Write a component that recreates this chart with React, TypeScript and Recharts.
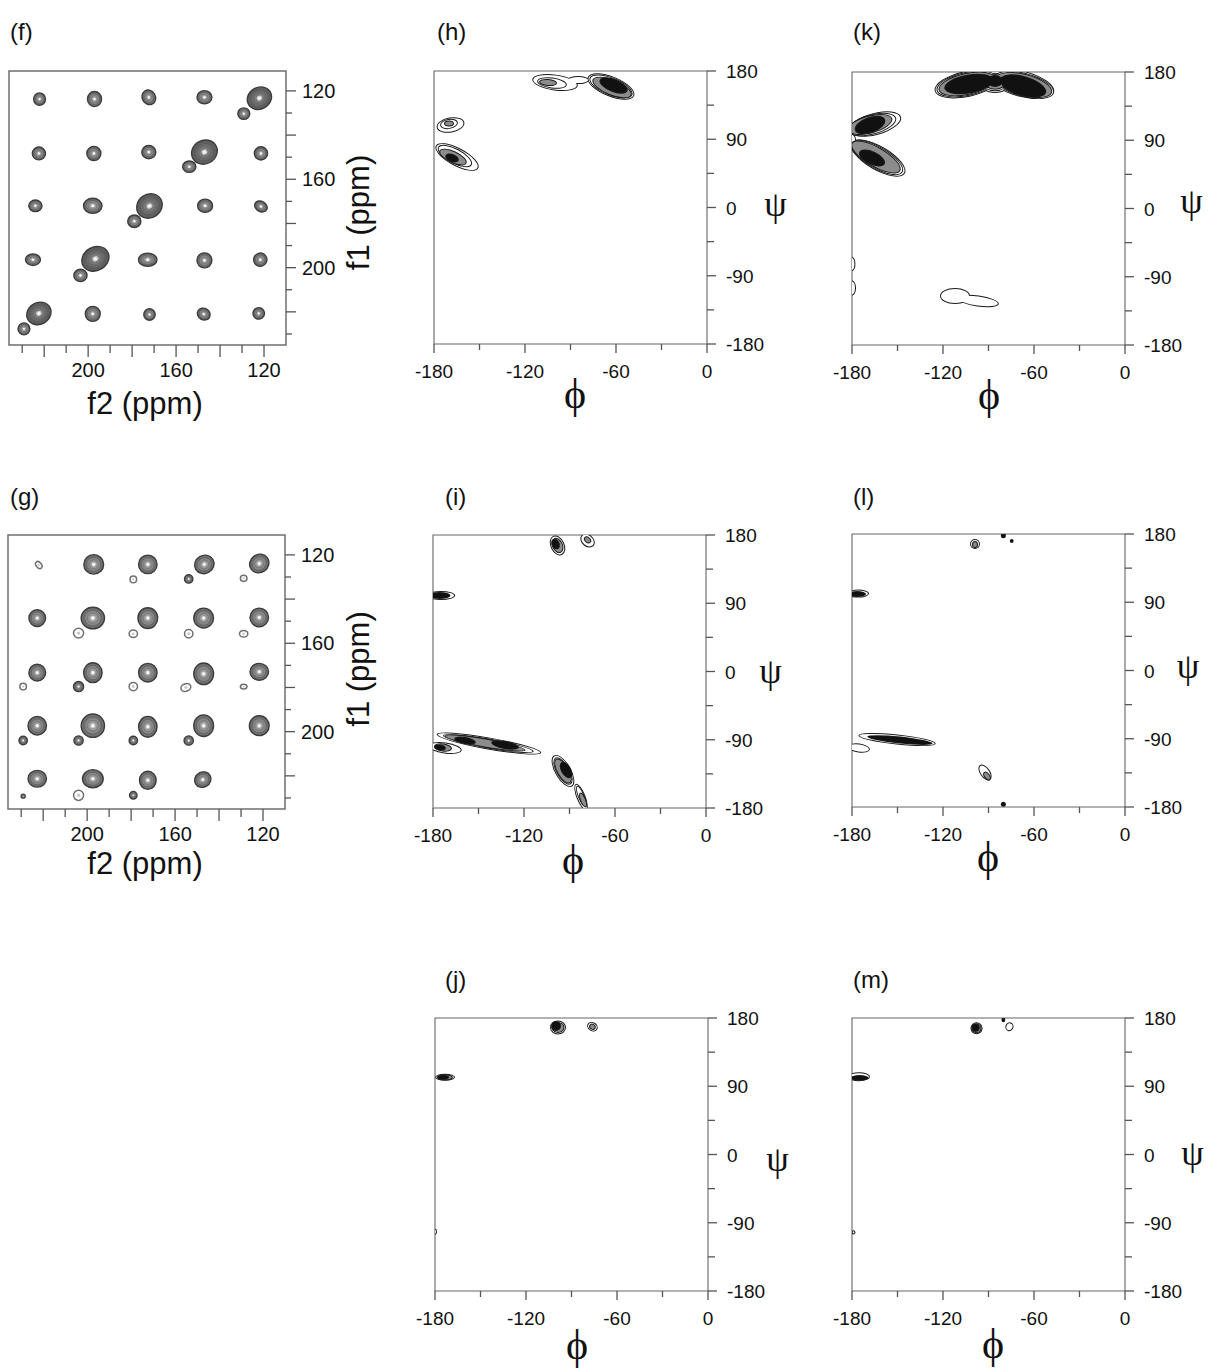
import React from "react";
import { ScatterChart, Scatter, XAxis, YAxis, ReferenceArea } from "recharts";

const SANS = '"Liberation Sans", Arial, sans-serif';
const SERIF = '"Liberation Serif", "Times New Roman", serif';

// ---- axis ticks ----
const ppmTicks = [120, 130, 140, 150, 160, 170, 180, 190, 200, 210, 220, 230];
const ppmLabels = [120, 160, 200];
const phiTicks = [-180, -150, -120, -90, -60, -30, 0];
const phiLabels = [-180, -120, -60, 0];
const psiTicks = [-180, -135, -90, -45, 0, 45, 90, 135, 180];
const psiLabels = [-180, -90, 0, 90, 180];

// ---- 2D spectra: peak centre (f2, f1 in ppm), half widths (ppm), tilt, kind ----
// kind: p = normal cross peak, b = diagonal peak, r = weak hollow peak
const peaksF = [
  { f2: 222.1, f1: 123.7, rx: 2.7, ry: 2.8, rot: 0, k: "p" },
  { f2: 197.1, f1: 123.7, rx: 3.2, ry: 3.4, rot: 0, k: "p" },
  { f2: 172.4, f1: 122.9, rx: 3.0, ry: 3.4, rot: -30, k: "p" },
  { f2: 147.1, f1: 122.9, rx: 3.4, ry: 3.0, rot: 0, k: "p" },
  { f2: 122.1, f1: 123.3, rx: 5.7, ry: 4.9, rot: -30, k: "b" },
  { f2: 129.2, f1: 130.3, rx: 2.7, ry: 2.6, rot: 0, k: "p" },
  { f2: 222.4, f1: 148.3, rx: 3.0, ry: 2.9, rot: 0, k: "p" },
  { f2: 197.4, f1: 148.3, rx: 3.2, ry: 3.2, rot: 0, k: "p" },
  { f2: 172.4, f1: 147.7, rx: 3.2, ry: 3.0, rot: 0, k: "p" },
  { f2: 147.1, f1: 147.7, rx: 6.0, ry: 5.3, rot: -30, k: "b" },
  { f2: 154.0, f1: 154.3, rx: 3.0, ry: 2.6, rot: 0, k: "p" },
  { f2: 121.4, f1: 148.3, rx: 3.0, ry: 3.0, rot: 0, k: "p" },
  { f2: 224.0, f1: 172.0, rx: 3.0, ry: 2.6, rot: 0, k: "p" },
  { f2: 197.9, f1: 172.0, rx: 4.2, ry: 3.4, rot: 0, k: "p" },
  { f2: 172.1, f1: 172.1, rx: 6.0, ry: 5.3, rot: -35, k: "b" },
  { f2: 179.0, f1: 179.0, rx: 3.0, ry: 2.8, rot: 0, k: "p" },
  { f2: 146.8, f1: 172.0, rx: 3.4, ry: 3.0, rot: 0, k: "p" },
  { f2: 121.4, f1: 172.3, rx: 3.0, ry: 2.3, rot: 30, k: "p" },
  { f2: 225.1, f1: 196.4, rx: 3.4, ry: 2.6, rot: 0, k: "p" },
  { f2: 196.7, f1: 196.0, rx: 6.4, ry: 5.3, rot: -30, k: "b" },
  { f2: 203.5, f1: 203.5, rx: 3.0, ry: 2.8, rot: 0, k: "p" },
  { f2: 172.9, f1: 196.4, rx: 4.2, ry: 3.0, rot: 0, k: "p" },
  { f2: 147.1, f1: 196.7, rx: 3.4, ry: 3.4, rot: 0, k: "p" },
  { f2: 121.7, f1: 196.4, rx: 3.0, ry: 3.0, rot: 30, k: "p" },
  { f2: 222.4, f1: 220.7, rx: 5.7, ry: 4.9, rot: -30, k: "b" },
  { f2: 229.2, f1: 227.7, rx: 2.7, ry: 2.7, rot: 0, k: "p" },
  { f2: 197.9, f1: 220.9, rx: 3.4, ry: 3.4, rot: 0, k: "p" },
  { f2: 172.1, f1: 221.2, rx: 2.6, ry: 2.6, rot: 0, k: "p" },
  { f2: 147.4, f1: 221.0, rx: 3.0, ry: 2.6, rot: 30, k: "p" },
  { f2: 122.4, f1: 220.7, rx: 2.6, ry: 2.6, rot: 30, k: "p" },
];

const peaksG = [
  { f2: 222.0, f1: 124.6, rx: 1.2, ry: 1.8, rot: -40, k: "r" },
  { f2: 197.0, f1: 124.3, rx: 4.5, ry: 4.4, rot: 0, k: "p" },
  { f2: 172.4, f1: 124.3, rx: 4.2, ry: 4.2, rot: 0, k: "p" },
  { f2: 146.7, f1: 124.3, rx: 4.5, ry: 4.1, rot: -30, k: "p" },
  { f2: 121.7, f1: 123.9, rx: 4.5, ry: 4.1, rot: -35, k: "p" },
  { f2: 179.0, f1: 131.1, rx: 1.5, ry: 1.5, rot: 0, k: "r" },
  { f2: 153.8, f1: 130.9, rx: 1.9, ry: 1.9, rot: 0, k: "p" },
  { f2: 128.8, f1: 130.6, rx: 1.5, ry: 1.4, rot: 0, k: "r" },
  { f2: 222.7, f1: 148.6, rx: 3.8, ry: 3.8, rot: 0, k: "p" },
  { f2: 197.4, f1: 148.6, rx: 5.3, ry: 4.9, rot: 0, k: "p" },
  { f2: 203.9, f1: 155.4, rx: 2.3, ry: 2.2, rot: 0, k: "r" },
  { f2: 172.4, f1: 148.6, rx: 4.5, ry: 4.7, rot: 0, k: "p" },
  { f2: 179.0, f1: 155.7, rx: 1.9, ry: 1.7, rot: 0, k: "r" },
  { f2: 147.0, f1: 148.6, rx: 4.5, ry: 4.5, rot: 0, k: "p" },
  { f2: 153.8, f1: 155.7, rx: 1.9, ry: 1.9, rot: 0, k: "r" },
  { f2: 121.7, f1: 148.3, rx: 4.2, ry: 4.2, rot: 0, k: "p" },
  { f2: 128.8, f1: 155.7, rx: 1.9, ry: 1.5, rot: 0, k: "r" },
  { f2: 222.7, f1: 173.3, rx: 3.8, ry: 3.8, rot: 0, k: "p" },
  { f2: 229.1, f1: 179.6, rx: 1.5, ry: 1.5, rot: 0, k: "r" },
  { f2: 197.4, f1: 173.3, rx: 4.2, ry: 4.5, rot: 0, k: "p" },
  { f2: 203.9, f1: 179.6, rx: 2.3, ry: 2.3, rot: 0, k: "p" },
  { f2: 172.4, f1: 173.3, rx: 4.2, ry: 4.2, rot: 0, k: "p" },
  { f2: 179.0, f1: 179.6, rx: 1.9, ry: 1.9, rot: 0, k: "r" },
  { f2: 147.0, f1: 173.8, rx: 4.5, ry: 4.9, rot: 0, k: "p" },
  { f2: 155.1, f1: 180.0, rx: 2.3, ry: 1.7, rot: -20, k: "r" },
  { f2: 121.7, f1: 172.9, rx: 4.2, ry: 3.8, rot: 0, k: "p" },
  { f2: 128.8, f1: 179.6, rx: 1.5, ry: 1.1, rot: 0, k: "r" },
  { f2: 222.7, f1: 197.3, rx: 4.2, ry: 4.2, rot: 0, k: "p" },
  { f2: 229.1, f1: 204.0, rx: 1.9, ry: 1.9, rot: 0, k: "p" },
  { f2: 197.4, f1: 197.3, rx: 5.3, ry: 5.3, rot: 0, k: "p" },
  { f2: 203.9, f1: 204.0, rx: 2.1, ry: 2.1, rot: 0, k: "p" },
  { f2: 172.4, f1: 197.8, rx: 4.2, ry: 4.7, rot: 0, k: "p" },
  { f2: 179.0, f1: 204.0, rx: 1.9, ry: 1.9, rot: 0, k: "p" },
  { f2: 147.0, f1: 197.3, rx: 4.5, ry: 4.9, rot: 0, k: "p" },
  { f2: 153.8, f1: 204.0, rx: 2.1, ry: 2.1, rot: 0, k: "p" },
  { f2: 121.7, f1: 197.3, rx: 4.5, ry: 4.5, rot: 0, k: "p" },
  { f2: 222.7, f1: 221.3, rx: 4.2, ry: 3.8, rot: 0, k: "p" },
  { f2: 229.1, f1: 229.2, rx: 0.9, ry: 0.9, rot: 0, k: "p" },
  { f2: 197.4, f1: 221.3, rx: 4.7, ry: 4.1, rot: 0, k: "p" },
  { f2: 203.9, f1: 228.8, rx: 2.3, ry: 2.3, rot: 0, k: "r" },
  { f2: 172.4, f1: 222.0, rx: 3.8, ry: 4.1, rot: 0, k: "p" },
  { f2: 179.0, f1: 228.8, rx: 1.7, ry: 1.7, rot: 0, k: "p" },
  { f2: 147.4, f1: 221.7, rx: 3.8, ry: 3.4, rot: -30, k: "p" },
];

// ---- phi/psi maps: contour patches (deg), lv = contour level 0 (outer) .. 3 (top) ----
const blobsH = [
  { phi: -63.3, psi: 159.6, a: 15.8, b: 11.9, rot: 22, lv: 0 },
  { phi: -100.2, psi: 164.8, a: 14.5, b: 9.2, rot: 8, lv: 0 },
  { phi: -85, psi: 168.1, a: 6.6, b: 4, rot: 0, lv: 0 },
  { phi: -169.1, psi: 108.8, a: 8.6, b: 8.6, rot: -10, lv: 0 },
  { phi: -164.8, psi: 66.6, a: 15.2, b: 10.6, rot: 28, lv: 0 },
  { phi: -63.3, psi: 159.6, a: 14.5, b: 10.5, rot: 22, lv: 1 },
  { phi: -102.2, psi: 164.2, a: 9.2, b: 5.9, rot: 8, lv: 1 },
  { phi: -170.1, psi: 110.2, a: 5.3, b: 5.3, rot: -10, lv: 1 },
  { phi: -166.2, psi: 67.9, a: 11.9, b: 8.6, rot: 28, lv: 1 },
  { phi: -62.6, psi: 158.3, a: 13.2, b: 9.2, rot: 22, lv: 2 },
  { phi: -104.8, psi: 164.8, a: 5.3, b: 3.3, rot: 5, lv: 2 },
  { phi: -170.1, psi: 110.8, a: 2.6, b: 2.6, rot: 0, lv: 2 },
  { phi: -167.5, psi: 66.6, a: 9.2, b: 6.6, rot: 25, lv: 2 },
  { phi: -61.6, psi: 160.9, a: 9.2, b: 7.3, rot: 22, lv: 3 },
  { phi: -168.1, psi: 65.3, a: 4, b: 4, rot: 20, lv: 3 },
];

const blobsK = [
  { phi: -104.2, psi: 164.2, a: 21.1, b: 15.8, rot: -12, lv: 0 },
  { phi: -67.9, psi: 164.2, a: 21.1, b: 15.8, rot: 14, lv: 0 },
  { phi: -85.7, psi: 166.8, a: 9.9, b: 13.2, rot: 0, lv: 0 },
  { phi: -164.8, psi: 111.4, a: 17.1, b: 13.2, rot: -15, lv: 0 },
  { phi: -162.9, psi: 66.6, a: 19.8, b: 14.5, rot: 30, lv: 0 },
  { phi: -180, psi: 90.3, a: 2, b: 6.6, rot: 0, lv: 0 },
  { phi: -112.1, psi: -115.4, a: 9.2, b: 9.2, rot: 0, lv: 0 },
  { phi: -96.9, psi: -122, a: 13.2, b: 5.9, rot: 8, lv: 0 },
  { phi: -180, psi: -73.2, a: 1.6, b: 7.9, rot: 0, lv: 0 },
  { phi: -180, psi: -104.8, a: 2, b: 8.6, rot: 0, lv: 0 },
  { phi: -104.2, psi: 164.2, a: 19.8, b: 14.5, rot: -12, lv: 1 },
  { phi: -66.6, psi: 162.9, a: 19.8, b: 14.5, rot: 15, lv: 1 },
  { phi: -85.7, psi: 166.8, a: 8, b: 11, rot: 0, lv: 1 },
  { phi: -166.8, psi: 110.8, a: 15.8, b: 11.9, rot: -15, lv: 1 },
  { phi: -163.5, psi: 67.3, a: 18.8, b: 13.2, rot: 30, lv: 1 },
  { phi: -104.2, psi: 164.2, a: 18.5, b: 13.2, rot: -12, lv: 2 },
  { phi: -66.6, psi: 162.9, a: 18.5, b: 13.2, rot: 15, lv: 2 },
  { phi: -85.7, psi: 167, a: 6.6, b: 9.2, rot: 0, lv: 2 },
  { phi: -168.1, psi: 110.8, a: 14.5, b: 10.5, rot: -15, lv: 2 },
  { phi: -164.2, psi: 67.9, a: 17.8, b: 11.9, rot: 30, lv: 2 },
  { phi: -102.9, psi: 164.2, a: 15.8, b: 11.2, rot: -10, lv: 3 },
  { phi: -67.3, psi: 161.5, a: 15.2, b: 11.9, rot: 16, lv: 3 },
  { phi: -85.7, psi: 168, a: 4.5, b: 6.6, rot: 0, lv: 3 },
  { phi: -168.1, psi: 110.1, a: 9.9, b: 9.2, rot: -20, lv: 3 },
  { phi: -166.8, psi: 66.6, a: 8.6, b: 7.3, rot: 25, lv: 3 },
];

const blobsI = [
  { phi: -97.9, psi: 166.2, a: 6.3, b: 7.9, rot: 65, lv: 0 },
  { phi: -78.1, psi: 172.7, a: 4.6, b: 6.6, rot: 40, lv: 0 },
  { phi: -174.7, psi: 100.2, a: 8.6, b: 4.6, rot: 0, lv: 0 },
  { phi: -143.1, psi: -95, a: 34.3, b: 6.6, rot: 10, lv: 0 },
  { phi: -172.1, psi: -100.9, a: 10.5, b: 5.9, rot: 8, lv: 0 },
  { phi: -94.3, psi: -131.2, a: 11.2, b: 9.2, rot: 60, lv: 0 },
  { phi: -82.4, psi: -165.5, a: 8.6, b: 4.6, rot: 68, lv: 0 },
  { phi: -143.5, psi: -95, a: 29.7, b: 5.3, rot: 10, lv: 1 },
  { phi: -94.3, psi: -131.2, a: 9.5, b: 7.5, rot: 60, lv: 1 },
  { phi: -82.4, psi: -164, a: 6.5, b: 3, rot: 68, lv: 1 },
  { phi: -97.9, psi: 166.2, a: 4.6, b: 5.9, rot: 65, lv: 2 },
  { phi: -78.1, psi: 173.5, a: 2, b: 2.6, rot: 40, lv: 2 },
  { phi: -145.7, psi: -94.3, a: 26.4, b: 4.6, rot: 10, lv: 2 },
  { phi: -173.4, psi: -100.2, a: 5.3, b: 4, rot: 8, lv: 2 },
  { phi: -94.3, psi: -131.2, a: 8.6, b: 6.6, rot: 60, lv: 2 },
  { phi: -81.1, psi: -169.5, a: 4.6, b: 2.6, rot: 68, lv: 2 },
  { phi: -99.2, psi: 168.1, a: 3, b: 4, rot: 65, lv: 3 },
  { phi: -175.7, psi: 100.2, a: 6.6, b: 3.3, rot: 0, lv: 3 },
  { phi: -158.9, psi: -91, a: 6.6, b: 3.3, rot: 10, lv: 3 },
  { phi: -132.5, psi: -96.9, a: 8.6, b: 4, rot: 10, lv: 3 },
  { phi: -92.3, psi: -129.9, a: 5.3, b: 5.3, rot: 60, lv: 3 },
  { phi: -175.4, psi: -100.2, a: 3.3, b: 2.6, rot: 8, lv: 3 },
];

const blobsL = [
  { phi: -98.9, psi: 166.8, a: 2.6, b: 5.3, rot: 0, lv: 0 },
  { phi: -176, psi: 101.5, a: 6.6, b: 4, rot: 0, lv: 0 },
  { phi: -150.3, psi: -91, a: 25, b: 5.3, rot: 6, lv: 0 },
  { phi: -175.4, psi: -102.2, a: 6.6, b: 4.6, rot: 8, lv: 0 },
  { phi: -92.3, psi: -134.5, a: 5.3, b: 5.3, rot: 55, lv: 0 },
  { phi: -98.9, psi: 166, a: 1.3, b: 3.3, rot: 0, lv: 2 },
  { phi: -91, psi: -139.1, a: 2.6, b: 2.6, rot: 55, lv: 2 },
  { phi: -80.2, psi: 177.8, a: 1, b: 2, rot: 0, lv: 3 },
  { phi: -74.7, psi: 170.8, a: 0.6, b: 1.3, rot: 0, lv: 3 },
  { phi: -176.7, psi: 100.9, a: 5.3, b: 2.6, rot: 0, lv: 3 },
  { phi: -148.4, psi: -91.7, a: 21, b: 3.3, rot: 6, lv: 3 },
  { phi: -80.2, psi: -176.5, a: 1, b: 2, rot: 0, lv: 3 },
];

const blobsJ = [
  { phi: -98.9, psi: 167.5, a: 4.6, b: 7.9, rot: 0, lv: 0 },
  { phi: -76.2, psi: 168.5, a: 3, b: 4.6, rot: 30, lv: 0 },
  { phi: -173.4, psi: 101.8, a: 5.9, b: 3.3, rot: 0, lv: 0 },
  { phi: -180, psi: -101.8, a: 0.6, b: 2.6, rot: 0, lv: 0 },
  { phi: -98.9, psi: 167.5, a: 3.6, b: 5.9, rot: 0, lv: 2 },
  { phi: -76.2, psi: 168.5, a: 1.6, b: 2.6, rot: 30, lv: 2 },
  { phi: -173.4, psi: 101.8, a: 4.6, b: 2.6, rot: 0, lv: 2 },
  { phi: -100.2, psi: 169.4, a: 2.6, b: 5.3, rot: 0, lv: 3 },
  { phi: -174.7, psi: 101.8, a: 3.3, b: 2, rot: 0, lv: 3 },
];

const blobsM = [
  { phi: -97.9, psi: 166.4, a: 3.3, b: 6.6, rot: 0, lv: 0 },
  { phi: -76.2, psi: 168.5, a: 2, b: 4.6, rot: 20, lv: 0 },
  { phi: -175.4, psi: 102.6, a: 6.6, b: 4.6, rot: 0, lv: 0 },
  { phi: -179, psi: -102.6, a: 0.6, b: 1.5, rot: 0, lv: 0 },
  { phi: -97.9, psi: 166.4, a: 2.6, b: 5.3, rot: 0, lv: 2 },
  { phi: -98.5, psi: 167, a: 2, b: 4, rot: 0, lv: 3 },
  { phi: -80.2, psi: 177.4, a: 0.6, b: 1.6, rot: 0, lv: 3 },
  { phi: -175, psi: 101, a: 5.3, b: 2.4, rot: 0, lv: 3 },
];

const LEVEL_FILL = ["#ffffff", "#ffffff", "#8c8c8c", "#111111"];

// plot sizes in px
const NMR_W = 277;
const NMR_H = 274;
const RAMA = 273;

function bottomTick(labels: number[], isMajor: (v: number) => boolean, maj: number, min: number, base: number, fs: number, stroke: string) {
  return (props: any) => {
    const { x, y, payload } = props;
    const v = payload.value;
    return (
      <g>
        <line x1={x} x2={x} y1={y} y2={y + (isMajor(v) ? maj : min)} stroke={stroke} strokeWidth={1.3} />
        {labels.includes(v) && (
          <text x={x} y={y + base} textAnchor="middle" fontSize={fs} fontFamily={SANS} fill="#111">
            {v}
          </text>
        )}
      </g>
    );
  };
}

function rightTick(labels: number[], isMajor: (v: number) => boolean, maj: number, min: number, gap: number, fs: number, stroke: string) {
  return (props: any) => {
    const { x, y, payload } = props;
    const v = payload.value;
    return (
      <g>
        <line x1={x} x2={x + (isMajor(v) ? maj : min)} y1={y} y2={y} stroke={stroke} strokeWidth={1.3} />
        {labels.includes(v) && (
          <text x={x + gap} y={y + 7} textAnchor="start" fontSize={fs} fontFamily={SANS} fill="#111">
            {v}
          </text>
        )}
      </g>
    );
  };
}

function NmrPeak(props: any) {
  const { cx, cy, payload } = props;
  const rx = (payload.rx * NMR_W) / 126;
  const ry = (payload.ry * NMR_H) / 124;
  const t = `rotate(${payload.rot} ${cx} ${cy})`;
  if (payload.k === "r") {
    return (
      <g transform={t}>
        <ellipse cx={cx} cy={cy} rx={rx} ry={ry} fill="#fff" stroke="#707070" strokeWidth={1.5} />
        <ellipse cx={cx} cy={cy} rx={rx * 0.35} ry={ry * 0.35} fill="#c8c8c8" />
      </g>
    );
  }
  const big = payload.k === "b";
  return (
    <g transform={t}>
      <ellipse cx={cx} cy={cy} rx={rx} ry={ry} fill={big ? "#5e5e5e" : "#707070"} stroke="#3c3c3c" strokeWidth={1.4} />
      <ellipse cx={cx} cy={cy} rx={rx * 0.72} ry={ry * 0.72} fill={big ? "#6a6a6a" : "#888"} stroke="#5a5a5a" strokeWidth={0.7} />
      <ellipse cx={cx} cy={cy} rx={rx * 0.46} ry={ry * 0.46} fill={big ? "#7a7a7a" : "#999"} stroke="#6a6a6a" strokeWidth={0.6} />
      <ellipse cx={cx} cy={cy} rx={rx * 0.22} ry={ry * 0.22} fill="#d0d0d0" />
      <circle cx={cx} cy={cy} r={Math.min(1.3, rx * 0.15)} fill="#fff" />
    </g>
  );
}

const ramaShape = (outline: boolean) => (props: any) => {
  const { cx, cy, payload } = props;
  const pad = outline ? 1 : 0;
  const rx = (payload.a * RAMA) / 180 + pad;
  const ry = (payload.b * RAMA) / 360 + pad;
  return (
    <ellipse
      cx={cx}
      cy={cy}
      rx={rx}
      ry={ry}
      transform={`rotate(${payload.rot} ${cx} ${cy})`}
      fill={outline ? "#1a1a1a" : LEVEL_FILL[payload.lv]}
    />
  );
};

function NmrPanel({ left, top, peaks }: { left: number; top: number; peaks: any[] }) {
  const m = { top: 15, right: 5, bottom: 5, left: 6 };
  const yW = 55;
  const xH = 45;
  const major = (v: number) => v % 20 === 0;
  return (
    <div style={{ position: "absolute", left: left - m.left, top: top - m.top }}>
      <ScatterChart width={m.left + NMR_W + yW + m.right} height={m.top + NMR_H + xH + m.bottom} margin={m}>
        <XAxis
          type="number"
          dataKey="f2"
          domain={[110, 236]}
          reversed
          allowDataOverflow
          ticks={ppmTicks}
          interval={0}
          height={xH}
          axisLine={false}
          tickLine={false}
          tickSize={0}
          tickMargin={0}
          tick={bottomTick(ppmLabels, major, 12, 8, 32, 20, "#555")}
        />
        <YAxis
          type="number"
          dataKey="f1"
          orientation="right"
          domain={[111, 235]}
          reversed
          allowDataOverflow
          ticks={ppmTicks}
          interval={0}
          width={yW}
          axisLine={false}
          tickLine={false}
          tickSize={0}
          tickMargin={0}
          tick={rightTick(ppmLabels, major, 10, 6, 16, 20, "#555")}
        />
        <Scatter data={peaks} shape={NmrPeak} isAnimationActive={false} />
        <ReferenceArea x1={110} x2={236} y1={111} y2={235} fill="none" stroke="#6f6f6f" strokeWidth={1.5} />
      </ScatterChart>
    </div>
  );
}

function RamaPanel({ left, top, blobs }: { left: number; top: number; blobs: any[] }) {
  const m = { top: 15, right: 5, bottom: 5, left: 25 };
  const yW = 62;
  const xH = 45;
  const levels = [0, 1, 2, 3];
  return (
    <div style={{ position: "absolute", left: left - m.left, top: top - m.top }}>
      <ScatterChart width={m.left + RAMA + yW + m.right} height={m.top + RAMA + xH + m.bottom} margin={m}>
        <XAxis
          type="number"
          dataKey="phi"
          domain={[-180, 0]}
          allowDataOverflow
          ticks={phiTicks}
          interval={0}
          height={xH}
          axisLine={false}
          tickLine={false}
          tickSize={0}
          tickMargin={0}
          tick={bottomTick(phiLabels, (v) => phiLabels.includes(v), 9, 6, 34, 19, "#555")}
        />
        <YAxis
          type="number"
          dataKey="psi"
          orientation="right"
          domain={[-180, 180]}
          allowDataOverflow
          ticks={psiTicks}
          interval={0}
          width={yW}
          axisLine={false}
          tickLine={false}
          tickSize={0}
          tickMargin={0}
          tick={rightTick(psiLabels, (v) => psiLabels.includes(v), 9, 7, 19, 19, "#555")}
        />
        {levels.map((lv) => {
          const d = blobs.filter((b) => b.lv === lv);
          if (!d.length) return null;
          return [
            <Scatter key={`o${lv}`} data={d} shape={ramaShape(true)} isAnimationActive={false} />,
            <Scatter key={`f${lv}`} data={d} shape={ramaShape(false)} isAnimationActive={false} />,
          ];
        })}
        <ReferenceArea x1={-180} x2={0} y1={-180} y2={180} fill="none" stroke="#666" strokeWidth={1.1} />
      </ScatterChart>
    </div>
  );
}

const tags = [
  { t: "(f)", x: 10, y: 40 },
  { t: "(g)", x: 10, y: 505 },
  { t: "(h)", x: 437, y: 40 },
  { t: "(i)", x: 445, y: 505 },
  { t: "(j)", x: 445, y: 988 },
  { t: "(k)", x: 853, y: 40 },
  { t: "(l)", x: 853, y: 505 },
  { t: "(m)", x: 853, y: 988 },
];

const phiSym = [
  { x: 575, y: 408 },
  { x: 989, y: 409 },
  { x: 573, y: 874 },
  { x: 988, y: 871 },
  { x: 577, y: 1359 },
  { x: 993, y: 1358 },
];

const psiSym = [
  { x: 775.5, y: 216 },
  { x: 1191.5, y: 213 },
  { x: 770.5, y: 683 },
  { x: 1188, y: 678 },
  { x: 777.5, y: 1171 },
  { x: 1192.5, y: 1165 },
];

export default function App() {
  return (
    <div style={{ position: "absolute", left: 0, top: 0, width: 1209, height: 1371, background: "#fff", overflow: "hidden" }}>
      <NmrPanel left={9} top={71} peaks={peaksF} />
      <NmrPanel left={8} top={535} peaks={peaksG} />
      <RamaPanel left={434} top={71} blobs={blobsH} />
      <RamaPanel left={433} top={535} blobs={blobsI} />
      <RamaPanel left={435} top={1018} blobs={blobsJ} />
      <RamaPanel left={852} top={72} blobs={blobsK} />
      <RamaPanel left={852} top={534} blobs={blobsL} />
      <RamaPanel left={852} top={1018} blobs={blobsM} />
      <svg width={1209} height={1371} style={{ position: "absolute", left: 0, top: 0, pointerEvents: "none" }}>
        {tags.map((d) => (
          <text key={d.t} x={d.x} y={d.y} fontSize={24} fontFamily={SANS} fill="#111">
            {d.t}
          </text>
        ))}
        <text x={145} y={414} textAnchor="middle" fontSize={31} fontFamily={SANS} fill="#111">f2 (ppm)</text>
        <text x={145} y={874} textAnchor="middle" fontSize={31} fontFamily={SANS} fill="#111">f2 (ppm)</text>
        <text x={368.5} y={212.5} textAnchor="middle" fontSize={31} fontFamily={SANS} fill="#111" transform="rotate(-90 368.5 212.5)">f1 (ppm)</text>
        <text x={368.5} y={669} textAnchor="middle" fontSize={31} fontFamily={SANS} fill="#111" transform="rotate(-90 368.5 669)">f1 (ppm)</text>
        {phiSym.map((d, i) => (
          <text key={`phi${i}`} x={d.x} y={d.y} textAnchor="middle" fontSize={42} fontFamily={SERIF} fill="#111">ϕ</text>
        ))}
        {psiSym.map((d, i) => (
          <text key={`psi${i}`} x={d.x} y={d.y} textAnchor="middle" fontSize={36} fontFamily={SERIF} fill="#111">ψ</text>
        ))}
      </svg>
    </div>
  );
}
